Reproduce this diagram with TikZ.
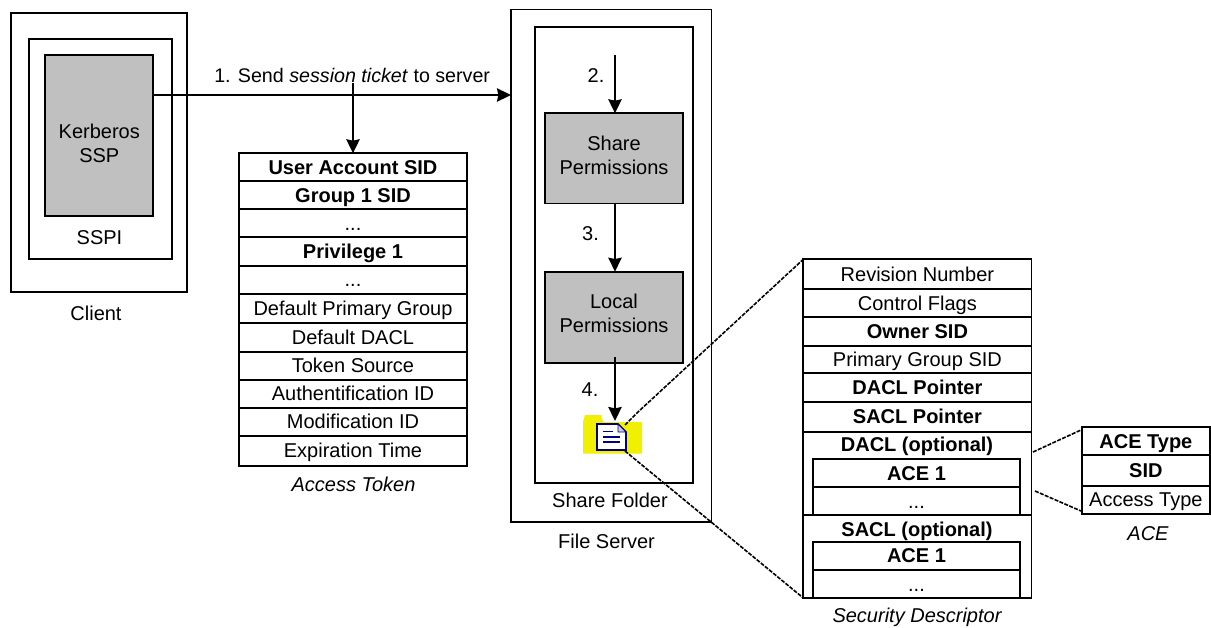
\documentclass[tikz,border=0pt]{standalone}
\usepackage{fontspec}
\setmainfont{Liberation Sans}
\usetikzlibrary{arrows.meta}
\definecolor{boxgray}{HTML}{C0C0C0}
\definecolor{folderyellow}{HTML}{F0F000}
\definecolor{docblue}{HTML}{000080}
\newcommand{\bx}[7]{%
  \pgfmathsetmacro{\bw}{(#5-#3)*0.75}\pgfmathsetmacro{\bh}{(#6-#4)*0.75}%
  \pgfmathsetmacro{\bcx}{(#3+#5)/2}\pgfmathsetmacro{\bcy}{(#4+#6)/2}%
  \node[#2,minimum width=\bw pt,minimum height=\bh pt] (#1) at (\bcx,\bcy) {#7};}
\tikzset{
  x=0.75pt,y=-0.75pt,
  frame/.style={draw=black,line width=1.4pt,inner sep=0pt,outer sep=0pt,font=\fontsize{15}{18}\selectfont,align=center},
  graybox/.style={frame,fill=boxgray},
  cell/.style={frame,fill=white,text height=10.7pt,text depth=0pt},
  boldcell/.style={cell,font=\fontsize{15}{18}\selectfont\bfseries},
  lbl/.style={font=\fontsize{15}{18}\selectfont,inner sep=0pt,align=center},
  ilbl/.style={lbl,font=\fontsize{15}{18}\selectfont\itshape},
  blbl/.style={lbl,font=\fontsize{15}{18}\selectfont\bfseries},
  flow/.style={line width=1.4pt,-{Stealth[length=10.5pt,width=10pt,inset=1pt]}},
  zoomline/.style={line width=1.2pt,dash pattern=on 3pt off 1pt},
}
\begin{document}
\begin{tikzpicture}
\useasboundingbox (0,0) rectangle (1211,628);
% Client
\bx{client}{frame}{11}{13.3}{186.7}{291.7}{}
\bx{sspi}{frame}{29}{39.3}{171.7}{259.3}{}
\bx{kerb}{graybox}{45.3}{55.3}{153.3}{215.7}{}
\node[lbl] (kerblbl) at (99.3,143) {Kerberos\\SSP};
\node[lbl] (sspilbl) at (99.5,237.5) {SSPI};
\node[lbl] (clientlbl) at (96,313) {Client};
% Access token
\bx{t1}{boldcell}{239}{153.3}{467}{181}{User Account SID}
\bx{t2}{boldcell}{239}{181}{467}{209.3}{Group 1 SID}
\bx{t3}{cell}{239}{209.3}{467}{237.3}{...}
\bx{t4}{boldcell}{239}{237.3}{467}{265.7}{Privilege 1}
\bx{t5}{cell}{239}{265.7}{467}{294}{...}
\bx{t6}{cell}{239}{294}{467}{323.3}{Default Primary Group}
\bx{t7}{cell}{239}{323.3}{467}{351.7}{Default DACL}
\bx{t8}{cell}{239}{351.7}{467}{379.7}{Token Source}
\bx{t9}{cell}{239}{379.7}{467}{407.7}{Authentification ID}
\bx{t10}{cell}{239}{407.7}{467}{435.7}{Modification ID}
\bx{t11}{cell}{239}{435.7}{467}{465.7}{Expiration Time}
\node[ilbl] (tokenlbl) at (353.5,484) {Access Token};
% File server
\bx{server}{frame}{511}{9.5}{711.5}{522}{}
\bx{share}{frame}{535}{27.3}{693.3}{483}{}
\bx{sharep}{graybox}{545}{113.3}{683.3}{203.5}{}
\bx{localp}{graybox}{545}{271.7}{683.3}{363.3}{}
\node[lbl] (sharetext) at (614,155.3) {Share\\Permissions};
\node[lbl] (localtext) at (614,313.3) {Local\\Permissions};
\node[lbl] (sharelbl) at (610,500) {Share Folder};
\node[lbl] (serverlbl) at (606.5,541) {File Server};
% Folder icon
\fill[folderyellow] (583,422) -- (585,415) -- (601,415) -- (603,422) -- (642,422) -- (642,453.5) -- (583,453.5) -- cycle;
\draw[docblue,line width=1.3pt,fill=white] (597,424) -- (618,424) -- (626,432) -- (626,450) -- (597,450) -- cycle;
\draw[docblue,line width=0.7pt,fill=white!80!docblue] (618,424) -- (618,432) -- (626,432) -- cycle;
\draw[docblue,line width=1.1pt] (603,431.5) -- (613,431.5) (603,437) -- (620,437) (603,442) -- (620,442);
\coordinate (dochi) at (625,425);
\coordinate (doclo) at (625,451);
\coordinate (kink) at (638,412);
% Security descriptor
\bx{s1}{cell}{803.3}{259.3}{1031.5}{289.3}{Revision Number}
\bx{s2}{cell}{803.3}{289.3}{1031.5}{317.3}{Control Flags}
\bx{s3}{boldcell}{803.3}{317.3}{1031.5}{345.7}{Owner SID}
\bx{s4}{cell}{803.3}{345.7}{1031.5}{373.3}{Primary Group SID}
\bx{s5}{boldcell}{803.3}{373.3}{1031.5}{401.7}{DACL Pointer}
\bx{s6}{boldcell}{803.3}{401.7}{1031.5}{431.7}{SACL Pointer}
\bx{dacl}{frame}{803.3}{431.7}{1031.5}{515.3}{}
\node[blbl] (dacllbl) at (917,446.5) {DACL (optional)};
\bx{d1}{boldcell}{813.3}{459.3}{1019.7}{487.3}{ACE 1}
\bx{d2}{cell}{813.3}{487.3}{1019.7}{515.3}{...}
\bx{sacl}{frame}{803.3}{515.3}{1031.5}{598}{}
\node[blbl] (sacllbl) at (917,531) {SACL (optional)};
\bx{e1}{boldcell}{813.3}{541.7}{1019.7}{570}{ACE 1}
\bx{e2}{cell}{813.3}{570}{1019.7}{598}{...}
\node[ilbl] (sdlbl) at (917,617) {Security Descriptor};
% ACE
\bx{a1}{boldcell}{1081.7}{427.3}{1210}{455}{ACE Type}
\bx{a2}{boldcell}{1081.7}{455}{1210}{486}{SID}
\bx{a3}{cell}{1081.7}{486}{1210}{513.7}{Access Type}
\node[ilbl] (acelbl) at (1148,534) {ACE};
% Connectors
\coordinate (ticketstart) at (kerb.east |- 0,95);
\coordinate (serverin) at (server.west |- 0,95);
\coordinate (tap) at (t1.north |- 0,83);
\coordinate (s2start) at (615,55);
\coordinate (s4start) at (615,357);
\coordinate (s4end) at (615,421);
\draw[flow] (ticketstart) -- (serverin);
\draw[flow] (tap) -- (t1.north);
\draw[flow] (s2start) -- (s2start |- sharep.north);
\draw[flow] (s2start |- sharep.south) -- (s2start |- localp.north);
\draw[flow] (s4start) -- (s4end);
\node[lbl,anchor=west,font=\fontsize{14.75}{18}\selectfont] (l1) at (214,75) {1. Send \textit{session ticket} to server};
\node[lbl] (l2) at (596,76) {2.};
\node[lbl] (l3) at (590.5,234) {3.};
\node[lbl] (l4) at (590,390) {4.};
\draw[zoomline] (dochi) -- (kink) -- (s1.north west);
\draw[zoomline] (doclo) -- (sacl.south west);
\coordinate (ah) at (1033,452);
\coordinate (al) at (1035,491);
\coordinate (aht) at (1081,430);
\coordinate (alb) at (1081,511);
\draw[zoomline] (ah) -- (aht);
\draw[zoomline] (al) -- (alb);
\end{tikzpicture}
\end{document}
